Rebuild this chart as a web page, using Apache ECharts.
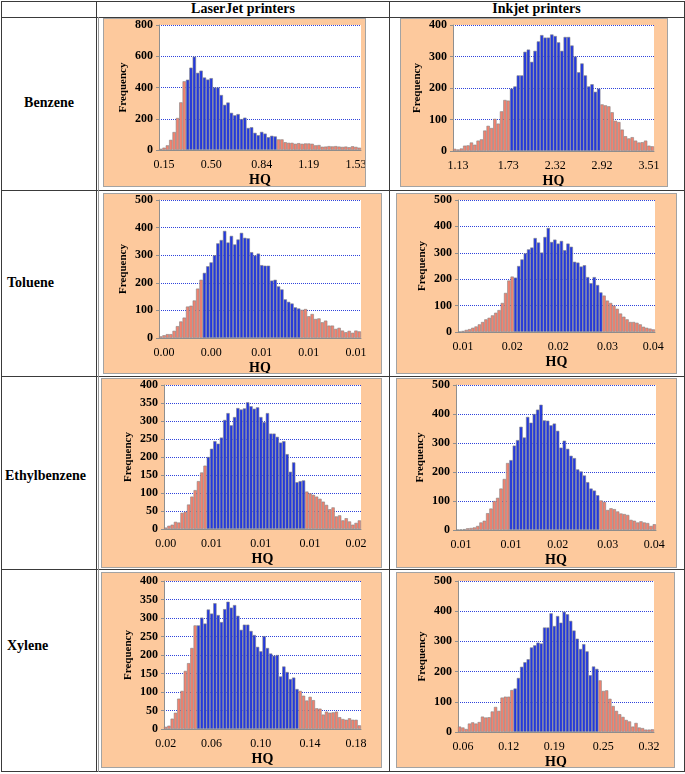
<!DOCTYPE html>
<html>
<head>
<meta charset="utf-8">
<title>HQ histograms</title>
<script src="https://cdn.jsdelivr.net/npm/echarts@6.0.0/dist/echarts.min.js"></script>
<style>
body{margin:0;background:#fff;font-family:"Liberation Serif","Times New Roman",serif;}
#page{position:relative;width:685px;height:774px;}
.hl{position:absolute;height:1px;background:#3a3a3a;}
.vl{position:absolute;width:1px;background:#3a3a3a;}
.box{position:absolute;background:#fdc99d;border:1px solid #a3a3a3;box-sizing:border-box;}
.txt{position:absolute;font-weight:bold;font-size:14px;white-space:nowrap;line-height:16px;}
</style>
</head>
<body>
<div id="page">
    <!-- table lines -->
    <div class="hl" style="left:1px;top:1px;width:684px"></div>
    <div class="hl" style="left:1px;top:17px;width:684px"></div>
    <div class="hl" style="left:1px;top:190px;width:684px"></div>
    <div class="hl" style="left:1px;top:376px;width:684px"></div>
    <div class="hl" style="left:1px;top:569px;width:684px"></div>
    <div class="hl" style="left:1px;top:771px;width:684px"></div>
    <div class="vl" style="left:1px;top:1px;height:771px"></div>
    <div class="vl" style="left:96px;top:1px;height:771px"></div>
    <div class="vl" style="left:98px;top:17px;height:755px;background:#999"></div>
    <div class="vl" style="left:389px;top:1px;height:771px"></div>
    <div class="vl" style="left:684px;top:1px;height:771px"></div>

    <!-- headers -->
    <div class="txt" style="left:97px;width:292px;top:1px;text-align:center">LaserJet printers</div>
    <div class="txt" style="left:389px;width:295px;top:1px;text-align:center">Inkjet printers</div>

    <!-- row labels -->
    <div class="txt" style="left:2px;width:94px;top:95px;text-align:center">Benzene</div>
    <div class="txt" style="left:7px;top:275px">Toluene</div>
    <div class="txt" style="left:5px;top:468px">Ethylbenzene</div>
    <div class="txt" style="left:7px;top:638px">Xylene</div>

    <!-- chart boxes -->
    <div class="box" id="c1" style="left:103px;top:18px;width:263px;height:169px"></div>
    <div class="box" id="c2" style="left:400px;top:18px;width:268px;height:169px"></div>
    <div class="box" id="c3" style="left:103px;top:193px;width:279px;height:181px"></div>
    <div class="box" id="c4" style="left:396px;top:193px;width:281px;height:181px"></div>
    <div class="box" id="c5" style="left:101px;top:378px;width:281px;height:190px"></div>
    <div class="box" id="c6" style="left:396px;top:378px;width:281px;height:190px"></div>
    <div class="box" id="c7" style="left:101px;top:572px;width:281px;height:196px"></div>
    <div class="box" id="c8" style="left:396px;top:572px;width:279px;height:196px"></div>
</div>
<script>
/**
 * frequency per HQ bin (60 bins each)
 */
var benzeneLaser = [8,15,30,65,115,205,305,440,
    450,527,597,494,508,464,451,460,400,400,352,289,304,238,222,230,198,207,141,146,110,95,116,105,82,91,87,
    68,68,50,46,46,40,44,40,42,42,40,30,32,21,22,25,23,25,22,20,22,18,24,20,15];
var benzeneInkjet = [7,5,8,17,18,27,20,33,37,65,80,73,102,87,126,162,160,
    198,205,240,240,315,322,283,318,348,368,360,360,370,365,345,318,362,362,335,300,250,278,240,205,212,188,198,
    148,145,142,123,96,92,68,47,40,44,33,27,28,33,17,15];
var tolueneLaser = [6,10,14,14,26,43,60,74,114,117,136,179,211,
    236,260,274,300,343,355,388,346,370,339,357,381,363,361,311,299,306,264,262,262,208,211,187,176,140,131,125,111,107,
    102,105,79,87,69,71,57,63,45,45,33,37,27,21,26,19,27,24];
var tolueneInkjet = [1,4,8,11,16,21,29,38,48,54,63,73,83,110,148,195,210,
    206,250,275,298,313,320,356,339,301,360,394,341,350,335,345,310,335,323,266,263,248,253,208,185,208,178,150,
    138,119,110,100,88,70,58,48,38,38,35,29,20,16,13,10];
var ethylLaser = [4,9,12,20,18,45,48,68,90,108,133,157,176,
    200,223,244,237,254,303,322,288,311,336,332,335,352,341,334,338,311,297,322,265,265,256,240,244,208,159,185,130,133,135,
    104,99,95,90,84,76,67,55,60,35,38,24,30,21,12,17,24];
var ethylInkjet = [1,2,3,6,7,9,14,26,32,58,74,100,111,143,176,231,
    241,291,310,356,319,390,370,400,415,432,378,377,361,367,342,284,308,280,256,248,209,202,188,165,143,136,120,
    102,97,69,75,72,64,57,55,52,35,32,26,30,26,24,14,20];
var xyleneLaser = [6,9,28,44,82,103,157,178,219,280,
    280,301,285,323,312,340,308,289,324,344,328,335,306,268,282,282,265,254,222,210,251,219,204,198,200,142,169,154,135,139,108,
    103,90,77,87,78,56,55,39,47,44,45,47,32,27,25,29,25,25,10];
var xyleneInkjet = [18,15,10,28,32,28,33,51,48,49,68,83,70,114,117,117,139,
    144,179,216,231,241,280,287,296,293,346,346,393,351,384,362,398,390,368,336,309,275,291,267,188,217,209,
    171,136,138,110,86,70,59,50,40,35,18,30,15,13,8,8,9];

/**
 * first and last bin drawn in blue (the rest is red)
 */
var blueBenzeneLaser = [8, 34];
var blueBenzeneInkjet = [17, 43];
var blueTolueneLaser = [13, 41];
var blueTolueneInkjet = [17, 43];
var blueEthylLaser = [13, 42];
var blueEthylInkjet = [16, 42];
var blueXyleneLaser = [10, 40];
var blueXyleneInkjet = [17, 42];

/**
 * x tick labels and the bin they sit under
 */
var ticksBenzeneLaser = ['0.15','0.50','0.84','1.19','1.53'];
var ticksBenzeneInkjet = ['1.13','1.73','2.32','2.92','3.51'];
var ticksTolueneLaser = ['0.00','0.00','0.01','0.01','0.01'];
var ticksTolueneInkjet = ['0.01','0.02','0.02','0.03','0.04'];
var ticksEthylLaser = ['0.00','0.01','0.01','0.01','0.02'];
var ticksEthylInkjet = ['0.01','0.01','0.02','0.03','0.04'];
var ticksXyleneLaser = ['0.02','0.06','0.10','0.14','0.18'];
var ticksXyleneInkjet = ['0.06','0.12','0.19','0.25','0.32'];

var tickBinsBenzeneLaser = [1,15,30,44,58];
var tickBinsBenzeneInkjet = [1,16,30,44,58];
var tickBinsTolueneLaser = [1,15,30,44,58];
var tickBinsTolueneInkjet = [1,16,30,45,59];
var tickBinsEthylLaser = [0,14,29,44,58];
var tickBinsEthylInkjet = [1,16,30,45,59];
var tickBinsXyleneLaser = [0,14,29,44,58];
var tickBinsXyleneInkjet = [1,15,29,44,58];

var BLUE = '#2238e0';
var RED = '#f2826f';
var FONT = '"Liberation Serif","Times New Roman",serif';

/**
 * one histogram into one box
 * grid = [left, right, top, bottom] inside the box
 */
function drawHist(id, counts, blue, yMax, yStep, tickBins, tickText, grid) {
    var chart = echarts.init(document.getElementById(id), null, {renderer: 'canvas'});
    var cats = counts.map(function (v, i) { return String(i); });
    var data = counts.map(function (v, i) {
        return {value: v, itemStyle: {color: (i >= blue[0] && i <= blue[1]) ? BLUE : RED}};
    });
    chart.setOption({
        animation: false,
        grid: {left: grid[0], right: grid[1], top: grid[2], bottom: grid[3],
            outerBoundsMode: 'none',
            show: true, backgroundColor: '#ffffff', borderWidth: 0},
        xAxis: {
            type: 'category', data: cats,
            name: 'HQ', nameLocation: 'middle', nameGap: 23, nameMoveOverlap: false,
            nameTextStyle: {fontFamily: FONT, fontWeight: 'bold', fontSize: 14, color: '#000'},
            axisLine: {lineStyle: {color: '#8f8f8f', width: 1}},
            axisTick: {show: false},
            axisLabel: {
                interval: function (i) { return tickBins.indexOf(i) >= 0; },
                formatter: function (v) { return tickText[tickBins.indexOf(Number(v))]; },
                margin: 9, fontFamily: FONT, fontSize: 12, color: '#000'
            }
        },
        yAxis: {
            type: 'value', min: 0, max: yMax, interval: yStep,
            name: 'Frequency', nameLocation: 'middle', nameRotate: 90, nameGap: 30, nameMoveOverlap: false,
            nameTextStyle: {fontFamily: FONT, fontWeight: 'bold', fontSize: 11, color: '#000'},
            axisLine: {show: true, lineStyle: {color: '#8f8f8f', width: 1}},
            axisTick: {show: true, length: 3, lineStyle: {color: '#8f8f8f'}},
            axisLabel: {margin: 6, fontFamily: FONT, fontWeight: 'bold', fontSize: 12, color: '#000'},
            splitLine: {lineStyle: {color: '#2f44dc', type: 'dotted', width: 1}}
        },
        series: [{
            type: 'bar', data: data, barCategoryGap: '0%',
            itemStyle: {borderColor: '#858585', borderWidth: 0.6}
        }]
    });
}

drawHist('c1', benzeneLaser, blueBenzeneLaser, 800, 200, tickBinsBenzeneLaser, ticksBenzeneLaser, [55, 4, 6, 36]);
drawHist('c2', benzeneInkjet, blueBenzeneInkjet, 400, 100, tickBinsBenzeneInkjet, ticksBenzeneInkjet, [52, 13, 6, 35]);
drawHist('c3', tolueneLaser, blueTolueneLaser, 500, 100, tickBinsTolueneLaser, ticksTolueneLaser, [55, 20, 6, 35]);
drawHist('c4', tolueneInkjet, blueTolueneInkjet, 500, 100, tickBinsTolueneInkjet, ticksTolueneInkjet, [61, 21, 6, 41]);
drawHist('c5', ethylLaser, blueEthylLaser, 400, 50, tickBinsEthylLaser, ticksEthylLaser, [62, 20, 6, 38]);
drawHist('c6', ethylInkjet, blueEthylInkjet, 500, 100, tickBinsEthylInkjet, ticksEthylInkjet, [59, 20, 6, 37]);
drawHist('c7', xyleneLaser, blueXyleneLaser, 400, 50, tickBinsXyleneLaser, ticksXyleneLaser, [62, 20, 8, 38]);
drawHist('c8', xyleneInkjet, blueXyleneInkjet, 500, 100, tickBinsXyleneInkjet, ticksXyleneInkjet, [61, 20, 8, 35]);
</script>
</body>
</html>
